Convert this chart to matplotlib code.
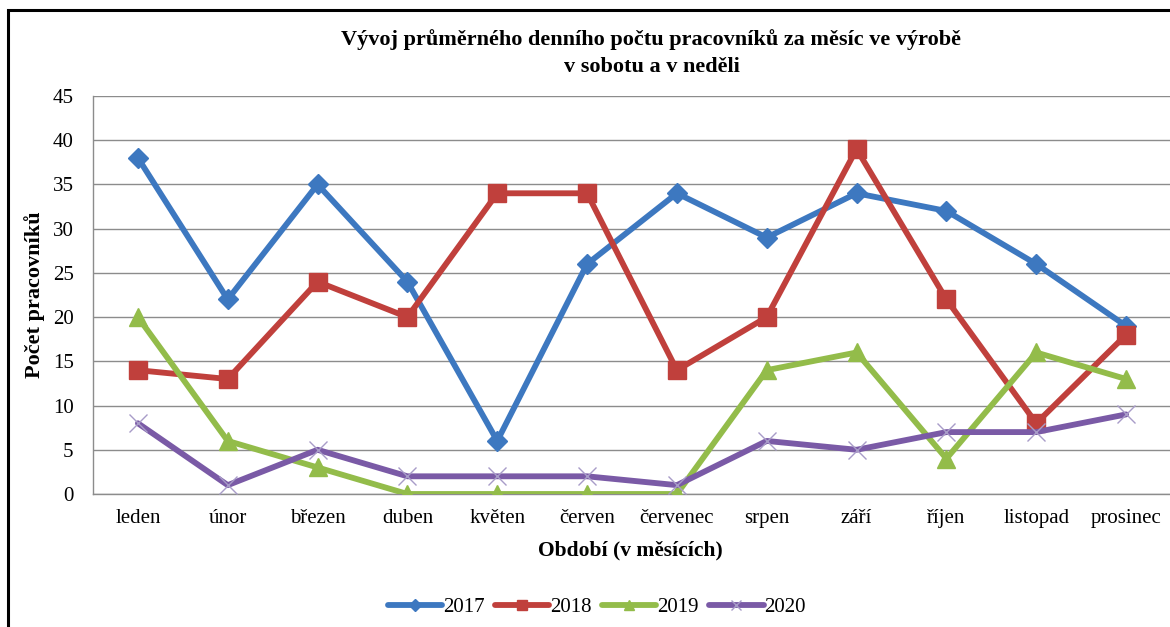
import matplotlib
matplotlib.use("Agg")
import matplotlib.pyplot as plt
from matplotlib.patches import Rectangle

months = ["leden", "únor", "březen", "duben", "květen", "červen", "červenec",
          "srpen", "září", "říjen", "listopad", "prosinec"]
s2017 = [38, 22, 35, 24, 6, 26, 34, 29, 34, 32, 26, 19]
s2018 = [14, 13, 24, 20, 34, 34, 14, 20, 39, 22, 8, 18]
s2019 = [20, 6, 3, 0, 0, 0, 0, 14, 16, 4, 16, 13]
s2020 = [8, 1, 5, 2, 2, 2, 1, 6, 5, 7, 7, 9]
series_names = ["2017", "2018", "2019", "2020"]
yticks = list(range(0, 50, 5))

plt.rcParams['font.family'] = ['Liberation Serif', 'DejaVu Serif']

W, H = 1170, 627
fig = plt.figure(figsize=(W / 100, H / 100), dpi=100)
fig.patch.set_facecolor('white')

ax = fig.add_axes([93 / W, 1 - 494 / H, (1171 - 93) / W, (494 - 96) / H])
x = list(range(len(months)))

styles = [
    dict(color='#3D78C0', marker='D', markersize=10),
    dict(color='#C0403C', marker='s', markersize=12.5),
    dict(color='#93BC4A', marker='^', markersize=13),
    dict(color='#7A5AA6', marker='x', markersize=13, markeredgewidth=1.0,
         markeredgecolor='#A89CC8'),
]
data = [s2017, s2018, s2019, s2020]
for name, vals, st in zip(series_names, data, styles):
    ax.plot(x, vals, linewidth=4.2, label=name, solid_capstyle='round',
            solid_joinstyle='round', zorder=3, **st)

ax.set_xlim(-0.5, len(months) - 0.5)
ax.set_ylim(0, 45)
ax.set_yticks(yticks)
ax.set_xticks(x)
ax.set_xticklabels(months, fontsize=15)
ax.tick_params(axis='y', labelsize=15, length=0, pad=14)
ax.tick_params(axis='x', length=0, pad=11)
ax.yaxis.grid(True, color='#8C8C8C', linewidth=1.0)
ax.set_axisbelow(True)
for sp in ['top', 'right']:
    ax.spines[sp].set_visible(False)
for sp in ['left', 'bottom']:
    ax.spines[sp].set_color('#8C8C8C')
    ax.spines[sp].set_linewidth(1.0)

fig.text(651 / W, 1 - 40 / H,
         "Vývoj průměrného denního počtu pracovníků za měsíc ve výrobě",
         ha='center', va='center', fontsize=16, fontweight='bold')
fig.text(652 / W, 1 - 67 / H, "v sobotu a v neděli",
         ha='center', va='center', fontsize=16, fontweight='bold')
fig.text(35 / W, 1 - 295 / H, "Počet pracovníků", rotation=90,
         ha='center', va='center', fontsize=16, fontweight='bold')
fig.text(630 / W, 1 - 550 / H, "Období (v měsících)",
         ha='center', va='center', fontsize=15.5, fontweight='bold')

handles, labels = ax.get_legend_handles_labels()
fig.legend(handles, labels, loc='center', bbox_to_anchor=(597 / W, 1 - 607 / H),
           ncol=4, frameon=False, fontsize=15, handlelength=2.6,
           columnspacing=0.5, handletextpad=0.05, markerscale=0.6)

fig.add_artist(Rectangle((8 / W, -0.2), 1.2, (1 - 10 / H) + 0.2,
                         transform=fig.transFigure, fill=False,
                         edgecolor='black', linewidth=2.2, zorder=10))

fig.savefig("out.png", dpi=100, facecolor='white')
